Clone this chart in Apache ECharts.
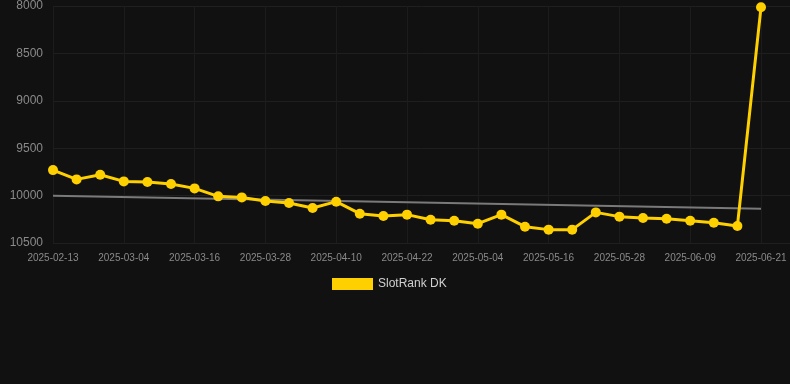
<!DOCTYPE html>
<html>
<head>
<meta charset="utf-8">
<script src="https://cdn.jsdelivr.net/npm/echarts@6/dist/echarts.min.js"></script>
<style>
html,body{margin:0;padding:0;background:#111111;}
#chart{width:790px;height:384px;}
</style>
</head>
<body>
<div id="chart"></div>
<script>
const categories = [
  '2025-02-13','2025-02-19','2025-02-26','2025-03-04','2025-03-08','2025-03-12',
  '2025-03-16','2025-03-20','2025-03-24','2025-03-28','2025-04-01','2025-04-05',
  '2025-04-10','2025-04-14','2025-04-18','2025-04-22','2025-04-26','2025-04-30',
  '2025-05-04','2025-05-08','2025-05-12','2025-05-16','2025-05-20','2025-05-24',
  '2025-05-28','2025-06-01','2025-06-05','2025-06-09','2025-06-13','2025-06-17',
  '2025-06-21'
];
const rankValues = [
  9731, 9829, 9780, 9850, 9857, 9878, 9924, 10008, 10019, 10057, 10079, 10131,
  10064, 10191, 10215, 10201, 10254, 10265, 10296, 10201, 10328, 10359, 10359,
  10177, 10222, 10236, 10244, 10265, 10286, 10321, 8014
];
const trendValues = [10001, null, null, null, null, null, null, null, null, null,
  null, null, null, null, null, null, null, null, null, null, null, null, null,
  null, null, null, null, null, null, null, 10138];
const yTicks = { min: 8000, max: 10500, interval: 500 };

const chart = echarts.init(document.getElementById('chart'));
chart.setOption({
  backgroundColor: '#111111',
  animation: false,
  legend: {
    data: ['SlotRank DK'],
    top: 273,
    left: 327,
    itemWidth: 41,
    itemHeight: 12,
    itemGap: 10,
    icon: 'rect',
    textStyle: { color: '#d0d0d0', fontSize: 12, fontFamily: 'Liberation Sans, Arial, sans-serif' }
  },
  grid: [
    { left: 53, right: 29, top: 6, bottom: 141 },
    { left: 53, right: 0, top: 6, bottom: 141 }
  ],
  xAxis: [
    {
      type: 'category',
      gridIndex: 0,
      data: categories,
      boundaryGap: false,
      axisLine: { show: false },
      axisTick: { show: false },
      axisLabel: {
        interval: 2,
        color: '#8a8a8a',
        fontSize: 10,
        margin: 10,
        fontFamily: 'Liberation Sans, Arial, sans-serif'
      },
      splitLine: { show: true, interval: 2, lineStyle: { color: '#1c1c1c', width: 1 } }
    },
    {
      type: 'value',
      gridIndex: 1,
      show: false,
      min: 0, max: 1
    }
  ],
  yAxis: [
    {
      type: 'value',
      gridIndex: 0,
      inverse: true,
      min: yTicks.min,
      max: yTicks.max,
      interval: yTicks.interval,
      axisLine: { show: false },
      axisTick: { show: false },
      axisLabel: {
        color: '#8a8a8a',
        fontSize: 12,
        margin: 10,
        formatter: function (v) { return String(v); },
        fontFamily: 'Liberation Sans, Arial, sans-serif'
      },
      splitLine: { show: false }
    },
    {
      type: 'value',
      gridIndex: 1,
      inverse: true,
      min: yTicks.min,
      max: yTicks.max,
      interval: yTicks.interval,
      axisLine: { show: false },
      axisTick: { show: false },
      axisLabel: { show: false },
      splitLine: { show: true, lineStyle: { color: '#1f1f1f', width: 1 } }
    }
  ],
  series: [
    {
      name: 'Trend',
      type: 'line',
      xAxisIndex: 0,
      yAxisIndex: 0,
      data: trendValues,
      connectNulls: true,
      symbol: 'none',
      lineStyle: { color: '#7a7a7a', width: 2 },
      z: 2
    },
    {
      name: 'SlotRank DK',
      type: 'line',
      xAxisIndex: 0,
      yAxisIndex: 0,
      data: rankValues,
      symbol: 'circle',
      symbolSize: 10,
      itemStyle: { color: '#FFD000' },
      lineStyle: { color: '#FFD000', width: 3 },
      z: 3
    }
  ]
});
</script>
</body>
</html>
